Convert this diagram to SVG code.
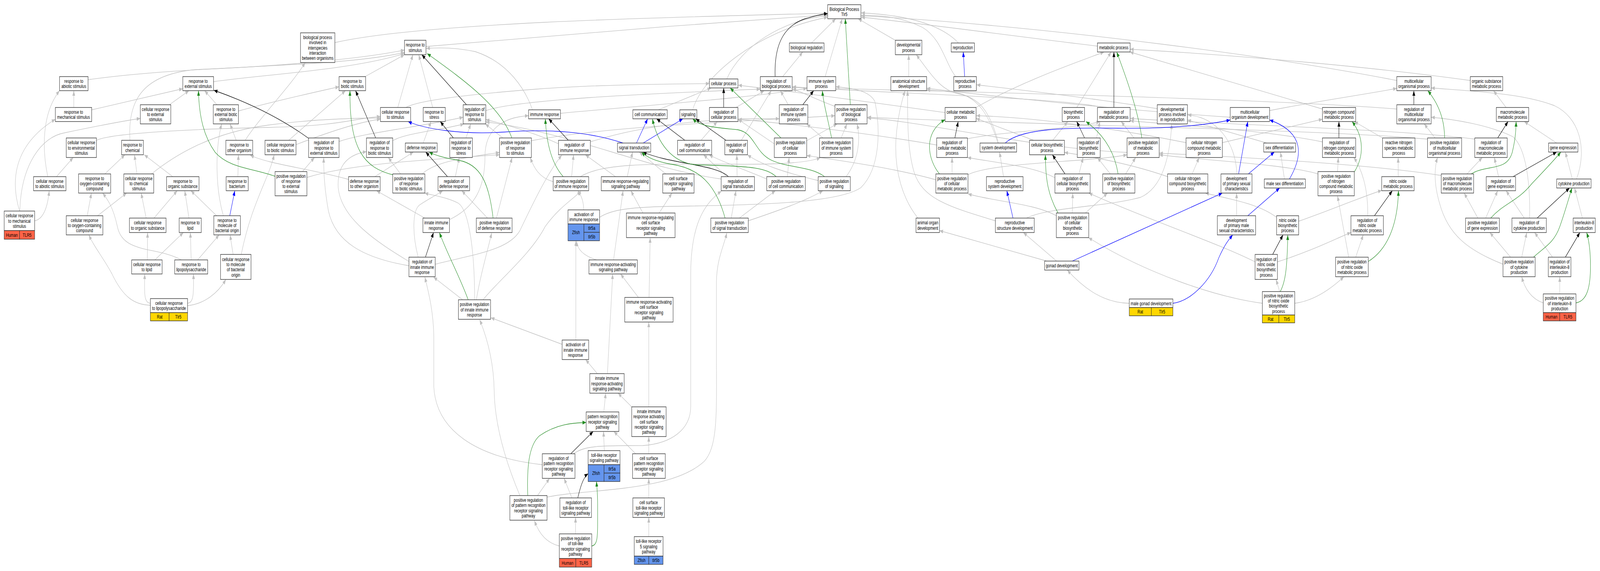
<svg xmlns="http://www.w3.org/2000/svg" width="5724" height="1461" viewBox="0 0 5724 1461" preserveAspectRatio="none">
<style>
svg:root{width:100vw;height:100vh}
rect{fill:#fff;stroke:#333;stroke-width:1.4}
.bg{fill:#fff;stroke:none}
text{font-family:"Liberation Sans",Arial,Helvetica,sans-serif;font-size:13px;text-anchor:middle;fill:#000}
rect.hu{fill:#ff6347}
rect.rat{fill:#ffd700}
rect.zf{fill:#6495ed}
#edges path{fill:none;stroke-width:1.3}
#edges .g{stroke:#c0c0c0;marker-end:url(#mg)}
#edges .k{stroke:#000;marker-end:url(#mk)}
#edges .b{stroke:#0000ff;marker-end:url(#mb)}
#edges .v{stroke:#228b22;marker-end:url(#mv)}
</style>
<defs>
<marker id="mg" markerUnits="userSpaceOnUse" markerWidth="13" markerHeight="10" refX="13" refY="5" orient="auto"><path d="M0,0 L13,5 L0,10 z" fill="#c0c0c0"/></marker>
<marker id="mk" markerUnits="userSpaceOnUse" markerWidth="13" markerHeight="10" refX="13" refY="5" orient="auto"><path d="M0,0 L13,5 L0,10 z" fill="#000"/></marker>
<marker id="mb" markerUnits="userSpaceOnUse" markerWidth="13" markerHeight="10" refX="13" refY="5" orient="auto"><path d="M0,0 L13,5 L0,10 z" fill="#0000ff"/></marker>
<marker id="mv" markerUnits="userSpaceOnUse" markerWidth="13" markerHeight="10" refX="13" refY="5" orient="auto"><path d="M0,0 L13,5 L0,10 z" fill="#228b22"/></marker>
</defs>
<rect class="bg" x="0" y="0" width="5724" height="1461"/>
<g id="edges">
<path class="g" d="M315,204 C700,165 1200,175 1447,134"/>
<path class="g" d="M764,209 C950,190 1250,180 1447,137"/>
<path class="g" d="M264,275 L264,232"/>
<path class="g" d="M328,281 L654,227"/>
<path class="g" d="M606,268 L676,232"/>
<path class="g" d="M776,268 L732,232"/>
<path class="g" d="M853,284 C950,265 1100,240 1213,222"/>
<path class="g" d="M845,359 L823,317"/>
<path class="g" d="M877,359 C930,300 1040,220 1092,160"/>
<path class="g" d="M345,359 C400,340 700,330 960,326 S1250,305 1361,298"/>
<path class="g" d="M465,359 C455,250 520,190 700,178 C1000,170 1300,150 1447,128"/>
<path class="g" d="M375,445 L447,396"/>
<path class="g" d="M490,445 L481,396"/>
<path class="g" d="M542,445 C620,400 750,340 960,320 C1150,302 1300,302 1361,302"/>
<path class="g" d="M618,452 L516,396"/>
<path class="g" d="M171,452 C150,380 150,290 213,232"/>
<path class="g" d="M202,452 L262,403"/>
<path class="g" d="M851,452 L853,396"/>
<path class="g" d="M70,540 C45,480 30,380 198,305"/>
<path class="g" d="M71,540 C75,420 150,350 230,340 C330,325 420,312 502,303"/>
<path class="g" d="M124,565 C160,560 172,520 176,488"/>
<path class="g" d="M312,552 L327,494"/>
<path class="g" d="M349,552 L453,494"/>
<path class="g" d="M523,558 L505,494"/>
<path class="g" d="M551,558 L634,488"/>
<path class="g" d="M676,558 L661,488"/>
<path class="g" d="M775,552 L683,488"/>
<path class="g" d="M799,552 C770,480 770,380 793,317"/>
<path class="g" d="M527,665 L528,595"/>
<path class="g" d="M554,665 L656,595"/>
<path class="g" d="M684,665 L681,595"/>
<path class="g" d="M707,665 L784,601"/>
<path class="g" d="M649,665 C560,630 440,650 420,580 C405,530 385,510 367,494"/>
<path class="g" d="M834,651 L823,601"/>
<path class="g" d="M863,651 C900,520 960,460 981,396"/>
<path class="g" d="M538,781 C480,780 440,760 400,700 C370,660 335,630 318,601"/>
<path class="g" d="M538,776 C518,774 515,760 518,701"/>
<path class="g" d="M671,776 C690,774 694,760 692,701"/>
<path class="g" d="M671,782 C730,778 780,750 808,715"/>
<path class="g" d="M1033,359 L1236,232"/>
<path class="g" d="M1059,370 C1150,345 1280,312 1361,305"/>
<path class="g" d="M1306,196 L1447,140"/>
<path class="g" d="M1198,109 C1500,60 2300,45 2961,34"/>
<path class="g" d="M1524,119 C1900,95 2500,60 2961,38"/>
<path class="g" d="M1423,275 L1477,140"/>
<path class="g" d="M1452,275 C1500,255 1700,240 1920,228 S2400,215 2538,214"/>
<path class="g" d="M1548,275 L1498,140"/>
<path class="g" d="M1738,283 C1850,255 2300,240 2720,228"/>
<path class="g" d="M1799,353 L1736,317"/>
<path class="g" d="M1901,360 C2200,320 2700,310 2987,296"/>
<path class="g" d="M1213,362 C1300,340 1500,325 1657,300"/>
<path class="g" d="M1405,360 C1450,340 1600,330 1660,317"/>
<path class="g" d="M1514,366 L1542,311"/>
<path class="g" d="M1667,353 L1684,317"/>
<path class="g" d="M1082,439 L1125,403"/>
<path class="g" d="M1098,454 C1250,420 1500,410 1787,396"/>
<path class="g" d="M1341,452 L1479,389"/>
<path class="g" d="M1247,459 C1100,430 960,420 895,397"/>
<path class="g" d="M1433,445 L1389,403"/>
<path class="g" d="M1511,445 C1560,410 1700,400 1787,390"/>
<path class="g" d="M1629,452 L1643,403"/>
<path class="g" d="M1520,558 L1347,488"/>
<path class="g" d="M1608,562 C1700,530 1735,480 1735,400 C1735,330 1800,300 1891,296"/>
<path class="g" d="M1744,558 L1652,488"/>
<path class="g" d="M1776,558 L1832,403"/>
<path class="g" d="M1496,658 C1475,600 1475,540 1500,525 C1530,510 1560,500 1584,488"/>
<path class="g" d="M1557,676 C1700,650 1820,640 1860,590 C1900,530 1960,440 2010,397"/>
<path class="g" d="M1463,669 C1350,620 1220,560 1210,480 C1205,420 1250,395 1311,388"/>
<path class="g" d="M1463,680 C1300,660 1200,620 1175,540 C1160,480 1158,440 1158,403"/>
<path class="g" d="M1655,767 L1551,709"/>
<path class="g" d="M1704,767 C1720,700 1745,640 1759,596"/>
<path class="g" d="M1728,767 C1780,720 1900,650 1950,580 C2000,530 2050,510 2078,489"/>
<path class="g" d="M1698,767 C1698,650 1680,540 1640,520 C1600,505 1550,500 1519,494"/>
<path class="g" d="M2011,881 L1756,813"/>
<path class="g" d="M1860,1268 C1820,1200 1770,1100 1768,1000 C1766,920 1740,860 1716,818"/>
<path class="g" d="M1940,1189 C1700,1170 1560,1100 1552,990 L1552,860 C1550,790 1530,740 1520,709"/>
<path class="g" d="M1923,1268 L1966,1224"/>
<path class="g" d="M1957,1272 C2100,1250 2400,1260 2520,1180 C2570,1140 2563,1050 2563,900 L2563,720 C2565,660 2590,630 2600,596"/>
<path class="g" d="M2052,1161 C2090,1140 2150,1140 2300,1140 C2400,1135 2471,1100 2471,1040 L2471,700 C2472,600 2500,530 2581,489"/>
<path class="g" d="M2160,1054 L2167,1006"/>
<path class="g" d="M2162,1153 L2159,1104"/>
<path class="g" d="M2274,1161 L2196,1104"/>
<path class="g" d="M2321,1161 L2321,1117"/>
<path class="g" d="M2046,1274 L2018,1224"/>
<path class="g" d="M2059,1366 L2059,1324"/>
<path class="g" d="M2001,1397 C1960,1390 1930,1370 1912,1332"/>
<path class="g" d="M2321,1274 L2321,1224"/>
<path class="g" d="M2321,1373 L2321,1324"/>
<path class="g" d="M2260,1041 L2211,1006"/>
<path class="g" d="M2321,1041 L2321,824"/>
<path class="g" d="M2137,956 L2095,920"/>
<path class="g" d="M2173,956 L2192,701"/>
<path class="g" d="M2060,870 L2060,616"/>
<path class="g" d="M2284,761 L2220,701"/>
<path class="g" d="M2322,761 L2326,608"/>
<path class="g" d="M2134,665 C2090,655 2065,640 2063,617"/>
<path class="g" d="M2195,665 L2229,488"/>
<path class="g" d="M2088,537 C2088,515 2080,500 2067,488"/>
<path class="g" d="M2145,556 C2180,540 2230,530 2400,528 C2700,525 3000,520 3080,480 C3150,430 3150,330 3130,260 C3110,230 3040,225 2990,222"/>
<path class="g" d="M2300,545 L2257,488"/>
<path class="g" d="M2358,545 L2404,494"/>
<path class="g" d="M2202,452 L2094,396"/>
<path class="g" d="M2244,452 L2263,389"/>
<path class="g" d="M2382,445 L2287,389"/>
<path class="g" d="M2045,452 L2052,396"/>
<path class="g" d="M2076,452 C2150,420 2300,418 2600,420 C2800,422 2900,415 2935,403"/>
<path class="g" d="M1979,465 C1930,455 1910,430 1897,403"/>
<path class="g" d="M2112,363 C2300,320 2550,300 2788,304"/>
<path class="g" d="M1998,368 C1930,345 1820,320 1738,306"/>
<path class="g" d="M2508,359 L2566,311"/>
<path class="g" d="M2652,359 L2759,232"/>
<path class="g" d="M2600,452 L2517,396"/>
<path class="g" d="M2637,452 L2636,396"/>
<path class="g" d="M2580,458 C2300,430 2050,340 1738,312"/>
<path class="g" d="M2616,558 L2633,488"/>
<path class="g" d="M2645,558 L2774,488"/>
<path class="g" d="M2677,565 C2780,540 2880,515 2944,488"/>
<path class="g" d="M2743,458 C2650,430 2570,410 2537,396"/>
<path class="g" d="M2817,452 L2823,403"/>
<path class="g" d="M2600,202 C2650,120 2800,50 2961,40"/>
<path class="g" d="M2633,275 L2734,232"/>
<path class="g" d="M2800,196 L2872,133"/>
<path class="g" d="M2770,368 L2640,305"/>
<path class="g" d="M2886,360 L2995,317"/>
<path class="g" d="M2820,268 L2792,232"/>
<path class="g" d="M2355,281 L2544,225"/>
<path class="g" d="M2478,281 C2510,200 2700,80 2961,44"/>
<path class="g" d="M2952,196 L3013,48"/>
<path class="g" d="M2903,110 L2990,48"/>
<path class="g" d="M3203,103 L3070,48"/>
<path class="g" d="M3429,110 C3390,80 3300,40 3081,33"/>
<path class="g" d="M3419,196 C3380,160 3370,100 3300,70 C3230,45 3150,38 3081,40"/>
<path class="g" d="M3251,196 L3251,140"/>
<path class="g" d="M2987,272 C2920,255 2870,235 2835,228"/>
<path class="g" d="M2944,353 L2886,317"/>
<path class="g" d="M3009,353 L3030,317"/>
<path class="g" d="M3027,452 C3070,410 3080,360 3066,317"/>
<path class="g" d="M2927,462 C2800,440 2720,420 2674,396"/>
<path class="g" d="M3381,288 C3200,270 2900,240 2641,218"/>
<path class="g" d="M3492,275 C3650,210 3850,160 3950,133"/>
<path class="g" d="M3351,371 C3100,340 2800,315 2641,305"/>
<path class="g" d="M3461,355 C3600,335 3850,330 3935,311"/>
<path class="g" d="M3406,445 L3406,403"/>
<path class="g" d="M3348,460 C3200,430 3000,410 2886,398"/>
<path class="g" d="M3463,447 C3550,415 3900,415 4032,396"/>
<path class="g" d="M3570,366 C3540,300 3500,240 3400,235 C3360,232 3330,231 3315,230"/>
<path class="g" d="M3572,366 C3540,280 3500,250 3430,240 C3370,232 3340,200 3278,140"/>
<path class="g" d="M3698,359 L3492,303"/>
<path class="g" d="M3766,359 L3820,311"/>
<path class="g" d="M3852,275 L3975,133"/>
<path class="g" d="M3590,452 L3576,389"/>
<path class="g" d="M3561,565 C3400,530 3300,510 3270,440 C3245,380 3247,300 3247,232"/>
<path class="g" d="M3672,558 C3750,530 3950,530 4080,505 C4160,480 4185,400 4192,317"/>
<path class="g" d="M3284,558 C3230,510 3200,440 3205,360 C3210,300 3225,260 3238,232"/>
<path class="g" d="M3745,668 L3361,590"/>
<path class="g" d="M3780,668 L3661,595"/>
<path class="g" d="M3774,455 C3700,425 3550,415 3461,403"/>
<path class="g" d="M3860,445 L3875,403"/>
<path class="g" d="M3836,545 L3838,494"/>
<path class="g" d="M3779,552 C3700,520 3550,515 3463,496"/>
<path class="g" d="M3883,545 L3962,494"/>
<path class="g" d="M3926,118 C3600,90 3300,60 3081,44"/>
<path class="g" d="M3947,275 C3800,250 3200,240 2835,222"/>
<path class="g" d="M4057,353 L4011,311"/>
<path class="g" d="M4032,390 C3700,380 3300,310 3103,302"/>
<path class="g" d="M3923,353 L3935,311"/>
<path class="g" d="M3972,445 L3926,403"/>
<path class="g" d="M4027,445 L4063,403"/>
<path class="g" d="M4140,278 C3900,250 3650,230 3494,217"/>
<path class="g" d="M4532,366 L4248,307"/>
<path class="g" d="M4425,445 C4420,360 4350,300 4249,294"/>
<path class="g" d="M4595,458 L4581,389"/>
<path class="g" d="M4424,552 L4424,494"/>
<path class="g" d="M4040,776 C3950,775 3880,740 3818,691"/>
<path class="g" d="M4243,365 C4000,330 3700,300 3493,296"/>
<path class="g" d="M4373,365 L4731,305"/>
<path class="g" d="M4265,445 L4290,403"/>
<path class="g" d="M4177,452 C4050,420 3900,400 3808,390"/>
<path class="g" d="M4567,556 C4500,520 4400,510 4312,494"/>
<path class="g" d="M4646,566 C4750,540 4850,510 4943,487"/>
<path class="g" d="M4490,670 C4350,620 4100,560 3895,494"/>
<path class="g" d="M4570,670 C4700,640 4780,610 4833,595"/>
<path class="g" d="M4578,746 L4565,715"/>
<path class="g" d="M4516,776 C4350,760 4100,700 3894,608"/>
<path class="g" d="M4632,776 C4700,770 4760,740 4808,708"/>
<path class="g" d="M4785,439 L4788,403"/>
<path class="g" d="M4715,445 C4600,420 4300,410 4147,396"/>
<path class="g" d="M4731,363 C4500,330 4200,320 4043,309"/>
<path class="g" d="M4731,279 L4042,133"/>
<path class="g" d="M4997,206 C4600,150 3800,70 3081,40"/>
<path class="g" d="M5260,206 C4900,170 4400,140 4043,126"/>
<path class="g" d="M4997,279 C4600,255 3500,235 2835,224"/>
<path class="g" d="M5134,353 L5095,317"/>
<path class="g" d="M5107,356 C4700,330 3700,320 3103,300"/>
<path class="g" d="M5388,275 L5343,232"/>
<path class="g" d="M5276,356 C5000,330 4400,320 4044,303"/>
<path class="g" d="M5569,366 L5453,311"/>
<path class="g" d="M4946,353 L4845,311"/>
<path class="g" d="M5002,452 L5002,403"/>
<path class="g" d="M4893,552 C4895,480 4870,430 4843,403"/>
<path class="g" d="M4850,658 L4877,601"/>
<path class="g" d="M4825,658 L4785,501"/>
<path class="g" d="M5248,445 L5303,403"/>
<path class="g" d="M5156,449 C4900,420 4400,400 4147,392"/>
<path class="g" d="M5361,452 L5346,403"/>
<path class="g" d="M5625,458 L5600,389"/>
<path class="g" d="M5640,458 C5680,380 5650,300 5560,270 C5450,240 5300,235 5120,225"/>
<path class="g" d="M5315,558 L5358,488"/>
<path class="g" d="M5287,558 L5238,494"/>
<path class="g" d="M5453,558 L5388,488"/>
<path class="g" d="M5472,558 C5475,470 5460,380 5413,350 C5330,320 5200,305 5120,300"/>
<path class="g" d="M5661,558 L5633,481"/>
<path class="g" d="M5444,658 L5462,595"/>
<path class="g" d="M5404,658 L5330,595"/>
<path class="g" d="M5377,676 C5250,640 5180,600 5150,520 C5125,460 5135,420 5143,403"/>
<path class="g" d="M5554,658 L5490,595"/>
<path class="g" d="M5580,752 L5580,708"/>
<path class="g" d="M5521,775 C5480,765 5455,740 5444,708"/>
<path class="g" d="M2005,290 C2300,270 2700,250 2887,226"/>
<path class="g" d="M1905,281 C1880,230 1820,160 1700,132 C1620,120 1560,122 1525,124"/>
<path class="g" d="M4542,283 C4700,260 4900,240 4997,226"/>
<path class="g" d="M4401,300 C4000,280 3600,250 3315,226"/>
<path class="k" d="M1669,268 L1509,140"/>
<path class="k" d="M1104,354 C1000,300 880,260 765,231"/>
<path class="k" d="M1344,353 L1272,232"/>
<path class="k" d="M1622,353 L1575,311"/>
<path class="k" d="M1601,452 L1523,389"/>
<path class="k" d="M1522,658 L1551,595"/>
<path class="k" d="M2042,1161 L2122,1104"/>
<path class="k" d="M2067,1274 C2075,1250 2085,1222 2104,1212"/>
<path class="k" d="M2033,359 L1963,304"/>
<path class="k" d="M2606,452 C2560,420 2400,420 2300,389"/>
<path class="k" d="M2597,359 L2489,304"/>
<path class="k" d="M2450,359 L2349,304"/>
<path class="k" d="M2589,275 L2589,225"/>
<path class="k" d="M2773,196 C2770,130 2790,70 2880,48 C2920,40 2940,36 2961,35"/>
<path class="k" d="M2872,268 L2911,232"/>
<path class="k" d="M3416,353 L3428,311"/>
<path class="k" d="M3810,445 L3765,396"/>
<path class="k" d="M3985,275 L3985,133"/>
<path class="k" d="M3880,353 L3852,311"/>
<path class="k" d="M4553,651 L4590,601"/>
<path class="k" d="M4790,353 L4790,311"/>
<path class="k" d="M5058,268 L5058,232"/>
<path class="k" d="M5358,353 L5395,311"/>
<path class="k" d="M4917,552 L4981,488"/>
<path class="k" d="M5413,452 L5569,389"/>
<path class="k" d="M5499,558 L5615,481"/>
<path class="k" d="M5600,658 L5652,595"/>
<path class="b" d="M822,552 L840,488"/>
<path class="b" d="M2229,366 C2100,335 1950,330 1800,338 C1650,345 1520,330 1460,311"/>
<path class="b" d="M2277,366 L2317,304"/>
<path class="b" d="M2301,366 L2443,304"/>
<path class="b" d="M3451,196 L3446,133"/>
<path class="b" d="M3596,366 C3650,330 3800,326 4000,328 C4200,330 4330,318 4401,307"/>
<path class="b" d="M3624,558 L3602,488"/>
<path class="b" d="M3836,668 L4373,494"/>
<path class="b" d="M4431,445 L4464,311"/>
<path class="b" d="M4466,445 L4559,389"/>
<path class="b" d="M4613,458 C4660,400 4670,340 4542,307"/>
<path class="b" d="M4464,552 L4578,481"/>
<path class="b" d="M4196,776 C4260,770 4330,720 4360,660 C4385,620 4400,610 4410,601"/>
<path class="v" d="M1831,353 C1790,270 1650,200 1528,137"/>
<path class="v" d="M984,451 C900,430 820,430 770,390 C730,350 712,300 710,232"/>
<path class="v" d="M1410,448 C1300,430 1250,380 1252,232"/>
<path class="v" d="M1764,558 C1750,470 1720,420 1640,410 C1590,405 1550,395 1535,389"/>
<path class="v" d="M1675,767 C1640,700 1600,650 1572,595"/>
<path class="v" d="M1888,1268 C1885,1200 1890,1140 1930,1115 C1990,1085 2050,1082 2097,1081"/>
<path class="v" d="M2117,1397 C2135,1395 2138,1380 2138,1340 L2138,1290 C2138,1260 2135,1245 2134,1232"/>
<path class="v" d="M2015,452 C1975,420 1955,370 1951,304"/>
<path class="v" d="M2594,558 C2560,470 2500,430 2400,420 C2340,412 2310,400 2295,389"/>
<path class="v" d="M2777,452 C2740,430 2700,425 2500,422 C2400,420 2350,360 2334,304"/>
<path class="v" d="M2950,452 C2900,425 2820,430 2760,410 C2700,390 2700,340 2640,332 C2560,326 2510,325 2478,304"/>
<path class="v" d="M2794,353 L2612,225"/>
<path class="v" d="M3042,268 L3024,48"/>
<path class="v" d="M2975,353 C2960,300 2945,260 2942,232"/>
<path class="v" d="M3361,445 C3320,410 3300,340 3381,306"/>
<path class="v" d="M3785,545 C3750,500 3740,460 3740,396"/>
<path class="v" d="M4085,353 C4070,280 4030,200 3995,133"/>
<path class="v" d="M4000,445 C3990,400 3960,350 3885,311"/>
<path class="v" d="M4580,746 C4600,720 4605,680 4607,601"/>
<path class="v" d="M4845,440 C4880,400 4880,350 4837,311"/>
<path class="v" d="M5168,353 C5168,300 5140,260 5108,232"/>
<path class="v" d="M4895,669 C4960,640 5000,580 5003,488"/>
<path class="v" d="M5263,445 C5320,420 5390,440 5410,390 C5420,360 5423,340 5424,311"/>
<path class="v" d="M5333,558 C5380,520 5430,515 5480,470 C5520,440 5560,410 5584,389"/>
<path class="v" d="M5486,658 C5530,630 5560,620 5580,580 C5600,540 5615,500 5624,481"/>
<path class="v" d="M5638,775 C5680,770 5690,730 5690,680 C5690,640 5683,610 5676,595"/>
</g>
<g id="n_bp"><rect x="2961" y="12" width="119" height="36"/><text x="3020.5" y="28">Biological Process</text><text x="3020.5" y="41.3">Tlr5</text></g>
<g id="n_bpi"><rect x="1075" y="84" width="123" height="76"/><text x="1136.5" y="100">biological process</text><text x="1136.5" y="113.3">involved in</text><text x="1136.5" y="126.6">interspecies</text><text x="1136.5" y="139.9">interaction</text><text x="1136.5" y="153.2">between organisms</text></g>
<g id="n_rs"><rect x="1447" y="103" width="77" height="37"/><text x="1485.5" y="119.5">response to</text><text x="1485.5" y="132.8">stimulus</text></g>
<g id="n_breg"><rect x="2824" y="110" width="124" height="23"/><text x="2886" y="126.1">biological regulation</text></g>
<g id="n_dev"><rect x="3203" y="103" width="95" height="37"/><text x="3250.5" y="119.5">developmental</text><text x="3250.5" y="132.8">process</text></g>
<g id="n_repro"><rect x="3403" y="110" width="83" height="23"/><text x="3444.5" y="126.1">reproduction</text></g>
<g id="n_met"><rect x="3926" y="110" width="117" height="23"/><text x="3984.5" y="126.1">metabolic process</text></g>
<g id="n_mop"><rect x="4997" y="196" width="123" height="36"/><text x="5058.5" y="212">multicellular</text><text x="5058.5" y="225.3">organismal process</text></g>
<g id="n_osm"><rect x="5260" y="196" width="116" height="36"/><text x="5318" y="212">organic substance</text><text x="5318" y="225.3">metabolic process</text></g>
<g id="n_rab"><rect x="213" y="196" width="102" height="36"/><text x="264" y="212">response to</text><text x="264" y="225.3">abiotic stimulus</text></g>
<g id="n_rext"><rect x="654" y="196" width="110" height="36"/><text x="709" y="212">response to</text><text x="709" y="225.3">external stimulus</text></g>
<g id="n_rbio"><rect x="1213" y="196" width="95" height="36"/><text x="1260.5" y="212">response to</text><text x="1260.5" y="225.3">biotic stimulus</text></g>
<g id="n_cp"><rect x="2538" y="202" width="102" height="23"/><text x="2589" y="218.1">cellular process</text></g>
<g id="n_rbp"><rect x="2720" y="196" width="114" height="36"/><text x="2777" y="212">regulation of</text><text x="2777" y="225.3">biological process</text></g>
<g id="n_isp"><rect x="2887" y="196" width="103" height="36"/><text x="2938.5" y="212">immune system</text><text x="2938.5" y="225.3">process</text></g>
<g id="n_asd"><rect x="3187" y="196" width="128" height="36"/><text x="3251" y="212">anatomical structure</text><text x="3251" y="225.3">development</text></g>
<g id="n_rp"><rect x="3412" y="196" width="81" height="36"/><text x="3452.5" y="212">reproductive</text><text x="3452.5" y="225.3">process</text></g>
<g id="n_rmech"><rect x="198" y="275" width="130" height="36"/><text x="263" y="291">response to</text><text x="263" y="304.3">mechanical stimulus</text></g>
<g id="n_crext"><rect x="502" y="268" width="109" height="49"/><text x="556.5" y="283.8">cellular response</text><text x="556.5" y="297.1">to external</text><text x="556.5" y="310.4">stimulus</text></g>
<g id="n_rextb"><rect x="763" y="268" width="90" height="49"/><text x="808" y="283.8">response to</text><text x="808" y="297.1">external biotic</text><text x="808" y="310.4">stimulus</text></g>
<g id="n_crs"><rect x="1361" y="275" width="108" height="36"/><text x="1415" y="291">cellular response</text><text x="1415" y="304.3">to stimulus</text></g>
<g id="n_rstr"><rect x="1514" y="275" width="79" height="36"/><text x="1553.5" y="291">response to</text><text x="1553.5" y="304.3">stress</text></g>
<g id="n_rrs"><rect x="1657" y="268" width="81" height="49"/><text x="1697.5" y="283.8">regulation of</text><text x="1697.5" y="297.1">response to</text><text x="1697.5" y="310.4">stimulus</text></g>
<g id="n_ir"><rect x="1891" y="281" width="114" height="23"/><text x="1948" y="297.1">immune response</text></g>
<g id="n_cc"><rect x="2264" y="281" width="123" height="23"/><text x="2325.5" y="297.1">cell communication</text></g>
<g id="n_sig"><rect x="2432" y="281" width="61" height="23"/><text x="2462.5" y="297.1">signaling</text></g>
<g id="n_rcp"><rect x="2538" y="275" width="102" height="36"/><text x="2589" y="291">regulation of</text><text x="2589" y="304.3">cellular process</text></g>
<g id="n_risp"><rect x="2788" y="268" width="102" height="49"/><text x="2839" y="283.8">regulation of</text><text x="2839" y="297.1">immune system</text><text x="2839" y="310.4">process</text></g>
<g id="n_prbp"><rect x="2987" y="268" width="115" height="49"/><text x="3044.5" y="283.8">positive regulation</text><text x="3044.5" y="297.1">of biological</text><text x="3044.5" y="310.4">process</text></g>
<g id="n_cmp"><rect x="3381" y="275" width="111" height="36"/><text x="3436.5" y="291">cellular metabolic</text><text x="3436.5" y="304.3">process</text></g>
<g id="n_bsp"><rect x="3800" y="275" width="80" height="36"/><text x="3840" y="291">biosynthetic</text><text x="3840" y="304.3">process</text></g>
<g id="n_rmp"><rect x="3926" y="275" width="117" height="36"/><text x="3984.5" y="291">regulation of</text><text x="3984.5" y="304.3">metabolic process</text></g>
<g id="n_dpir"><rect x="4140" y="268" width="108" height="49"/><text x="4194" y="283.8">developmental</text><text x="4194" y="297.1">process involved</text><text x="4194" y="310.4">in reproduction</text></g>
<g id="n_mod"><rect x="4401" y="275" width="141" height="36"/><text x="4471.5" y="291">multicellular</text><text x="4471.5" y="304.3">organism development</text></g>
<g id="n_ncmp"><rect x="4731" y="275" width="119" height="36"/><text x="4790.5" y="291">nitrogen compound</text><text x="4790.5" y="304.3">metabolic process</text></g>
<g id="n_rmop"><rect x="4997" y="268" width="123" height="49"/><text x="5058.5" y="283.8">regulation of</text><text x="5058.5" y="297.1">multicellular</text><text x="5058.5" y="310.4">organismal process</text></g>
<g id="n_mmp"><rect x="5353" y="275" width="116" height="36"/><text x="5411" y="291">macromolecule</text><text x="5411" y="304.3">metabolic process</text></g>
<g id="n_crenv"><rect x="237" y="353" width="108" height="50"/><text x="291" y="369.3">cellular response</text><text x="291" y="382.6">to environmental</text><text x="291" y="395.9">stimulus</text></g>
<g id="n_rchem"><rect x="435" y="359" width="78" height="37"/><text x="474" y="375.5">response to</text><text x="474" y="388.8">chemical</text></g>
<g id="n_roo"><rect x="808" y="359" width="96" height="37"/><text x="856" y="375.5">response to</text><text x="856" y="388.8">other organism</text></g>
<g id="n_crbio"><rect x="948" y="359" width="111" height="37"/><text x="1003.5" y="375.5">cellular response</text><text x="1003.5" y="388.8">to biotic stimulus</text></g>
<g id="n_rrext"><rect x="1104" y="353" width="109" height="50"/><text x="1158.5" y="369.3">regulation of</text><text x="1158.5" y="382.6">response to</text><text x="1158.5" y="395.9">external stimulus</text></g>
<g id="n_rrbio"><rect x="1311" y="353" width="94" height="50"/><text x="1358" y="369.3">regulation of</text><text x="1358" y="382.6">response to</text><text x="1358" y="395.9">biotic stimulus</text></g>
<g id="n_def"><rect x="1450" y="366" width="114" height="23"/><text x="1507" y="382.1">defense response</text></g>
<g id="n_rrstr"><rect x="1609" y="353" width="81" height="50"/><text x="1649.5" y="369.3">regulation of</text><text x="1649.5" y="382.6">response to</text><text x="1649.5" y="395.9">stress</text></g>
<g id="n_prrs"><rect x="1787" y="353" width="114" height="50"/><text x="1844" y="369.3">positive regulation</text><text x="1844" y="382.6">of response</text><text x="1844" y="395.9">to stimulus</text></g>
<g id="n_rir"><rect x="1998" y="359" width="114" height="37"/><text x="2055" y="375.5">regulation of</text><text x="2055" y="388.8">immune response</text></g>
<g id="n_st"><rect x="2209" y="366" width="119" height="23"/><text x="2268.5" y="382.1">signal transduction</text></g>
<g id="n_rcc"><rect x="2424" y="359" width="122" height="37"/><text x="2485" y="375.5">regulation of</text><text x="2485" y="388.8">cell communication</text></g>
<g id="n_rsig"><rect x="2593" y="359" width="81" height="37"/><text x="2633.5" y="375.5">regulation of</text><text x="2633.5" y="388.8">signaling</text></g>
<g id="n_prcp"><rect x="2770" y="353" width="116" height="50"/><text x="2828" y="369.3">positive regulation</text><text x="2828" y="382.6">of cellular</text><text x="2828" y="395.9">process</text></g>
<g id="n_prisp"><rect x="2932" y="353" width="119" height="50"/><text x="2991.5" y="369.3">positive regulation</text><text x="2991.5" y="382.6">of immune system</text><text x="2991.5" y="395.9">process</text></g>
<g id="n_rcmp"><rect x="3351" y="353" width="110" height="50"/><text x="3406" y="369.3">regulation of</text><text x="3406" y="382.6">cellular metabolic</text><text x="3406" y="395.9">process</text></g>
<g id="n_sysdev"><rect x="3506" y="366" width="131" height="23"/><text x="3571.5" y="382.1">system development</text></g>
<g id="n_cbsp"><rect x="3683" y="359" width="125" height="37"/><text x="3745.5" y="375.5">cellular biosynthetic</text><text x="3745.5" y="388.8">process</text></g>
<g id="n_rbsp"><rect x="3854" y="353" width="82" height="50"/><text x="3895" y="369.3">regulation of</text><text x="3895" y="382.6">biosynthetic</text><text x="3895" y="395.9">process</text></g>
<g id="n_prmp"><rect x="4032" y="353" width="115" height="50"/><text x="4089.5" y="369.3">positive regulation</text><text x="4089.5" y="382.6">of metabolic</text><text x="4089.5" y="395.9">process</text></g>
<g id="n_cncmp"><rect x="4243" y="353" width="130" height="50"/><text x="4308" y="369.3">cellular nitrogen</text><text x="4308" y="382.6">compound metabolic</text><text x="4308" y="395.9">process</text></g>
<g id="n_sexd"><rect x="4521" y="366" width="114" height="23"/><text x="4578" y="382.1">sex differentiation</text></g>
<g id="n_rncmp"><rect x="4731" y="353" width="119" height="50"/><text x="4790.5" y="369.3">regulation of</text><text x="4790.5" y="382.6">nitrogen compound</text><text x="4790.5" y="395.9">metabolic process</text></g>
<g id="n_rnsm"><rect x="4946" y="353" width="116" height="50"/><text x="5004" y="369.3">reactive nitrogen</text><text x="5004" y="382.6">species metabolic</text><text x="5004" y="395.9">process</text></g>
<g id="n_prmop"><rect x="5107" y="353" width="122" height="50"/><text x="5168" y="369.3">positive regulation</text><text x="5168" y="382.6">of multicellular</text><text x="5168" y="395.9">organismal process</text></g>
<g id="n_rmmp"><rect x="5276" y="353" width="116" height="50"/><text x="5334" y="369.3">regulation of</text><text x="5334" y="382.6">macromolecule</text><text x="5334" y="395.9">metabolic process</text></g>
<g id="n_ge"><rect x="5540" y="366" width="105" height="23"/><text x="5592.5" y="382.1">gene expression</text></g>
<g id="n_crab"><rect x="120" y="452" width="116" height="36"/><text x="178" y="468">cellular response</text><text x="178" y="481.3">to abiotic stimulus</text></g>
<g id="n_roxy"><rect x="281" y="445" width="115" height="49"/><text x="338.5" y="460.8">response to</text><text x="338.5" y="474.1">oxygen-containing</text><text x="338.5" y="487.4">compound</text></g>
<g id="n_crchem"><rect x="443" y="445" width="107" height="49"/><text x="496.5" y="460.8">cellular response</text><text x="496.5" y="474.1">to chemical</text><text x="496.5" y="487.4">stimulus</text></g>
<g id="n_rorg"><rect x="596" y="452" width="116" height="36"/><text x="654" y="468">response to</text><text x="654" y="481.3">organic substance</text></g>
<g id="n_rbact"><rect x="809" y="452" width="79" height="36"/><text x="848.5" y="468">response to</text><text x="848.5" y="481.3">bacterium</text></g>
<g id="n_prrext"><rect x="984" y="439" width="114" height="62"/><text x="1041" y="454.6">positive regulation</text><text x="1041" y="467.9">of response</text><text x="1041" y="481.2">to external</text><text x="1041" y="494.5">stimulus</text></g>
<g id="n_droo"><rect x="1247" y="452" width="113" height="36"/><text x="1303.5" y="468">defense response</text><text x="1303.5" y="481.3">to other organism</text></g>
<g id="n_prrbio"><rect x="1405" y="445" width="115" height="49"/><text x="1462.5" y="460.8">positive regulation</text><text x="1462.5" y="474.1">of response</text><text x="1462.5" y="487.4">to biotic stimulus</text></g>
<g id="n_rdef"><rect x="1567" y="452" width="113" height="36"/><text x="1623.5" y="468">regulation of</text><text x="1623.5" y="481.3">defense response</text></g>
<g id="n_prir"><rect x="1979" y="452" width="127" height="36"/><text x="2042.5" y="468">positive regulation</text><text x="2042.5" y="481.3">of immune response</text></g>
<g id="n_irrsp"><rect x="2151" y="452" width="174" height="36"/><text x="2238" y="468">immune response-regulating</text><text x="2238" y="481.3">signaling pathway</text></g>
<g id="n_csrsp"><rect x="2371" y="445" width="112" height="49"/><text x="2427" y="460.8">cell surface</text><text x="2427" y="474.1">receptor signaling</text><text x="2427" y="487.4">pathway</text></g>
<g id="n_rst"><rect x="2580" y="452" width="119" height="36"/><text x="2639.5" y="468">regulation of</text><text x="2639.5" y="481.3">signal transduction</text></g>
<g id="n_prcc"><rect x="2743" y="452" width="138" height="36"/><text x="2812" y="468">positive regulation</text><text x="2812" y="481.3">of cell communication</text></g>
<g id="n_prsig"><rect x="2927" y="452" width="115" height="36"/><text x="2984.5" y="468">positive regulation</text><text x="2984.5" y="481.3">of signaling</text></g>
<g id="n_prcmp"><rect x="3348" y="445" width="115" height="49"/><text x="3405.5" y="460.8">positive regulation</text><text x="3405.5" y="474.1">of cellular</text><text x="3405.5" y="487.4">metabolic process</text></g>
<g id="n_rsd"><rect x="3529" y="452" width="131" height="36"/><text x="3594.5" y="468">reproductive</text><text x="3594.5" y="481.3">system development</text></g>
<g id="n_rcbsp"><rect x="3774" y="445" width="126" height="49"/><text x="3837" y="460.8">regulation of</text><text x="3837" y="474.1">cellular biosynthetic</text><text x="3837" y="487.4">process</text></g>
<g id="n_prbsp"><rect x="3945" y="445" width="115" height="49"/><text x="4002.5" y="460.8">positive regulation</text><text x="4002.5" y="474.1">of biosynthetic</text><text x="4002.5" y="487.4">process</text></g>
<g id="n_cncbp"><rect x="4177" y="445" width="144" height="49"/><text x="4249" y="460.8">cellular nitrogen</text><text x="4249" y="474.1">compound biosynthetic</text><text x="4249" y="487.4">process</text></g>
<g id="n_dpsc"><rect x="4368" y="445" width="111" height="49"/><text x="4423.5" y="460.8">development</text><text x="4423.5" y="474.1">of primary sexual</text><text x="4423.5" y="487.4">characteristics</text></g>
<g id="n_msd"><rect x="4523" y="458" width="147" height="23"/><text x="4596.5" y="474.1">male sex differentiation</text></g>
<g id="n_prncmp"><rect x="4715" y="439" width="130" height="62"/><text x="4780" y="454.6">positive regulation</text><text x="4780" y="467.9">of nitrogen</text><text x="4780" y="481.2">compound metabolic</text><text x="4780" y="494.5">process</text></g>
<g id="n_nomp"><rect x="4943" y="452" width="116" height="36"/><text x="5001" y="468">nitric oxide</text><text x="5001" y="481.3">metabolic process</text></g>
<g id="n_prmmp"><rect x="5156" y="445" width="116" height="49"/><text x="5214" y="460.8">positive regulation</text><text x="5214" y="474.1">of macromolecule</text><text x="5214" y="487.4">metabolic process</text></g>
<g id="n_rge"><rect x="5317" y="452" width="105" height="36"/><text x="5369.5" y="468">regulation of</text><text x="5369.5" y="481.3">gene expression</text></g>
<g id="n_cyt"><rect x="5569" y="458" width="123" height="23"/><text x="5630.5" y="474.1">cytokine production</text></g>
<g id="n_crmech"><rect x="15" y="540" width="109" height="50"/><rect class="hu" x="15" y="590" width="55" height="22"/><rect class="hu" x="70" y="590" width="54" height="22"/><text x="69.5" y="556.3">cellular response</text><text x="69.5" y="569.6">to mechanical</text><text x="69.5" y="582.9">stimulus</text><text x="42.5" y="605.6">Human</text><text x="97" y="605.6">TLR5</text></g>
<g id="n_croxy"><rect x="237" y="552" width="131" height="49"/><text x="302.5" y="567.8">cellular response</text><text x="302.5" y="581.1">to oxygen-containing</text><text x="302.5" y="594.4">compound</text></g>
<g id="n_crorg"><rect x="463" y="558" width="131" height="37"/><text x="528.5" y="574.5">cellular response</text><text x="528.5" y="587.8">to organic substance</text></g>
<g id="n_rlip"><rect x="641" y="558" width="79" height="37"/><text x="680.5" y="574.5">response to</text><text x="680.5" y="587.8">lipid</text></g>
<g id="n_rmbo"><rect x="765" y="552" width="95" height="49"/><text x="812.5" y="567.8">response to</text><text x="812.5" y="581.1">molecule of</text><text x="812.5" y="594.4">bacterial origin</text></g>
<g id="n_actir"><rect x="2032" y="537" width="113" height="36"/><rect class="zf" x="2032" y="573" width="57" height="43"/><rect class="zf" x="2089" y="573" width="56" height="21.5"/><rect class="zf" x="2089" y="594.5" width="56" height="21.5"/><text x="2088.5" y="553">activation of</text><text x="2088.5" y="566.3">immune response</text><text x="2060.5" y="599.1">Zfish</text><text x="2117" y="588.4">tlr5a</text><text x="2117" y="609.9">tlr5b</text></g>
<g id="n_irrcs"><rect x="2241" y="545" width="174" height="63"/><text x="2328" y="561.2">immune response-regulating</text><text x="2328" y="574.5">cell surface</text><text x="2328" y="587.8">receptor signaling</text><text x="2328" y="601.1">pathway</text></g>
<g id="n_prst"><rect x="2543" y="558" width="134" height="37"/><text x="2610" y="574.5">positive regulation</text><text x="2610" y="587.8">of signal transduction</text></g>
<g id="n_iid"><rect x="1513" y="558" width="95" height="37"/><text x="1560.5" y="574.5">innate immune</text><text x="1560.5" y="587.8">response</text></g>
<g id="n_prdef"><rect x="1704" y="558" width="128" height="37"/><text x="1768" y="574.5">positive regulation</text><text x="1768" y="587.8">of defense response</text></g>
<g id="n_aod"><rect x="3277" y="558" width="84" height="37"/><text x="3319" y="574.5">animal organ</text><text x="3319" y="587.8">development</text></g>
<g id="n_rstd"><rect x="3561" y="558" width="139" height="37"/><text x="3630.5" y="574.5">reproductive</text><text x="3630.5" y="587.8">structure development</text></g>
<g id="n_prcbsp"><rect x="3779" y="545" width="116" height="63"/><text x="3837" y="561.2">positive regulation</text><text x="3837" y="574.5">of cellular</text><text x="3837" y="587.8">biosynthetic</text><text x="3837" y="601.1">process</text></g>
<g id="n_dpmsc"><rect x="4355" y="552" width="137" height="49"/><text x="4423.5" y="567.8">development</text><text x="4423.5" y="581.1">of primary male</text><text x="4423.5" y="594.4">sexual characteristics</text></g>
<g id="n_nobp"><rect x="4567" y="552" width="79" height="49"/><text x="4606.5" y="567.8">nitric oxide</text><text x="4606.5" y="581.1">biosynthetic</text><text x="4606.5" y="594.4">process</text></g>
<g id="n_rnomp"><rect x="4833" y="552" width="116" height="49"/><text x="4891" y="567.8">regulation of</text><text x="4891" y="581.1">nitric oxide</text><text x="4891" y="594.4">metabolic process</text></g>
<g id="n_prge"><rect x="5243" y="558" width="121" height="37"/><text x="5303.5" y="574.5">positive regulation</text><text x="5303.5" y="587.8">of gene expression</text></g>
<g id="n_rcyt"><rect x="5409" y="558" width="123" height="37"/><text x="5470.5" y="574.5">regulation of</text><text x="5470.5" y="587.8">cytokine production</text></g>
<g id="n_il8"><rect x="5628" y="558" width="79" height="37"/><text x="5667.5" y="574.5">interleukin-8</text><text x="5667.5" y="587.8">production</text></g>
<g id="n_crlip"><rect x="471" y="665" width="109" height="36"/><text x="525.5" y="681">cellular response</text><text x="525.5" y="694.3">to lipid</text></g>
<g id="n_rlps"><rect x="625" y="665" width="118" height="36"/><text x="684" y="681">response to</text><text x="684" y="694.3">lipopolysaccharide</text></g>
<g id="n_crmbo"><rect x="789" y="651" width="109" height="64"/><text x="843.5" y="667.7">cellular response</text><text x="843.5" y="681">to molecule</text><text x="843.5" y="694.3">of bacterial</text><text x="843.5" y="707.6">origin</text></g>
<g id="n_rii"><rect x="1463" y="658" width="94" height="50"/><text x="1510" y="674.3">regulation of</text><text x="1510" y="687.6">innate immune</text><text x="1510" y="700.9">response</text></g>
<g id="n_irasp"><rect x="2107" y="665" width="173" height="36"/><text x="2193.5" y="681">immune response-activating</text><text x="2193.5" y="694.3">signaling pathway</text></g>
<g id="n_gonad"><rect x="3737" y="668" width="123" height="23"/><text x="3798.5" y="684.1">gonad development</text></g>
<g id="n_rnobp"><rect x="4490" y="651" width="80" height="64"/><text x="4530" y="667.7">regulation of</text><text x="4530" y="681">nitric oxide</text><text x="4530" y="694.3">biosynthetic</text><text x="4530" y="707.6">process</text></g>
<g id="n_prnomp"><rect x="4778" y="658" width="117" height="50"/><text x="4836.5" y="674.3">positive regulation</text><text x="4836.5" y="687.6">of nitric oxide</text><text x="4836.5" y="700.9">metabolic process</text></g>
<g id="n_prcyt"><rect x="5377" y="658" width="115" height="50"/><text x="5434.5" y="674.3">positive regulation</text><text x="5434.5" y="687.6">of cytokine</text><text x="5434.5" y="700.9">production</text></g>
<g id="n_ril8"><rect x="5539" y="658" width="81" height="50"/><text x="5579.5" y="674.3">regulation of</text><text x="5579.5" y="687.6">interleukin-8</text><text x="5579.5" y="700.9">production</text></g>
<g id="n_crlps"><rect x="538" y="764" width="133" height="36"/><rect class="rat" x="538" y="800" width="67" height="21"/><rect class="rat" x="605" y="800" width="66" height="21"/><text x="604.5" y="780">cellular response</text><text x="604.5" y="793.3">to lipopolysaccharide</text><text x="571.5" y="815.1">Rat</text><text x="638" y="815.1">Tlr5</text></g>
<g id="n_irascs"><rect x="2235" y="761" width="173" height="63"/><text x="2321.5" y="777.2">immune response-activating</text><text x="2321.5" y="790.5">cell surface</text><text x="2321.5" y="803.8">receptor signaling</text><text x="2321.5" y="817.1">pathway</text></g>
<g id="n_prii"><rect x="1640" y="767" width="115" height="50"/><text x="1697.5" y="783.3">positive regulation</text><text x="1697.5" y="796.6">of innate immune</text><text x="1697.5" y="809.9">response</text></g>
<g id="n_mgd"><rect x="4040" y="765" width="156" height="22"/><rect class="rat" x="4040" y="787" width="79" height="21"/><rect class="rat" x="4119" y="787" width="77" height="21"/><text x="4118" y="780.6">male gonad development</text><text x="4079.5" y="802.1">Rat</text><text x="4157.5" y="802.1">Tlr5</text></g>
<g id="n_prnobp"><rect x="4516" y="746" width="116" height="60"/><rect class="rat" x="4516" y="806" width="59" height="20"/><rect class="rat" x="4575" y="806" width="57" height="20"/><text x="4574" y="760.7">positive regulation</text><text x="4574" y="774">of nitric oxide</text><text x="4574" y="787.3">biosynthetic</text><text x="4574" y="800.6">process</text><text x="4545.5" y="820.6">Rat</text><text x="4603.5" y="820.6">Tlr5</text></g>
<g id="n_pril8"><rect x="5521" y="752" width="117" height="48"/><rect class="hu" x="5521" y="800" width="59" height="21"/><rect class="hu" x="5580" y="800" width="58" height="21"/><text x="5579.5" y="767.3">positive regulation</text><text x="5579.5" y="780.6">of interleukin-8</text><text x="5579.5" y="793.9">production</text><text x="5550.5" y="815.1">Human</text><text x="5609" y="815.1">TLR5</text></g>
<g id="n_actiir"><rect x="2011" y="870" width="95" height="50"/><text x="2058.5" y="886.3">activation of</text><text x="2058.5" y="899.6">innate immune</text><text x="2058.5" y="912.9">response</text></g>
<g id="n_iirasp"><rect x="2110" y="956" width="123" height="50"/><text x="2171.5" y="972.3">innate immune</text><text x="2171.5" y="985.6">response-activating</text><text x="2171.5" y="998.9">signaling pathway</text></g>
<g id="n_prrsp"><rect x="2097" y="1054" width="117" height="50"/><text x="2155.5" y="1070.3">pattern recognition</text><text x="2155.5" y="1083.6">receptor signaling</text><text x="2155.5" y="1096.9">pathway</text></g>
<g id="n_iiracs"><rect x="2260" y="1041" width="123" height="76"/><text x="2321.5" y="1057">innate immune</text><text x="2321.5" y="1070.3">response activating</text><text x="2321.5" y="1083.6">cell surface</text><text x="2321.5" y="1096.9">receptor signaling</text><text x="2321.5" y="1110.2">pathway</text></g>
<g id="n_rprr"><rect x="1940" y="1161" width="117" height="63"/><text x="1998.5" y="1177.2">regulation of</text><text x="1998.5" y="1190.5">pattern recognition</text><text x="1998.5" y="1203.8">receptor signaling</text><text x="1998.5" y="1217.1">pathway</text></g>
<g id="n_tlr"><rect x="2104" y="1153" width="114" height="36"/><rect class="zf" x="2104" y="1189" width="57" height="43"/><rect class="zf" x="2161" y="1189" width="57" height="21.5"/><rect class="zf" x="2161" y="1210.5" width="57" height="21.5"/><text x="2161" y="1169">toll-like receptor</text><text x="2161" y="1182.3">signaling pathway</text><text x="2132.5" y="1215.1">Zfish</text><text x="2189.5" y="1204.4">tlr5a</text><text x="2189.5" y="1225.9">tlr5b</text></g>
<g id="n_csprr"><rect x="2263" y="1161" width="117" height="63"/><text x="2321.5" y="1177.2">cell surface</text><text x="2321.5" y="1190.5">pattern recognition</text><text x="2321.5" y="1203.8">receptor signaling</text><text x="2321.5" y="1217.1">pathway</text></g>
<g id="n_prprr"><rect x="1824" y="1268" width="133" height="63"/><text x="1890.5" y="1284.2">positive regulation</text><text x="1890.5" y="1297.5">of pattern recognition</text><text x="1890.5" y="1310.8">receptor signaling</text><text x="1890.5" y="1324.1">pathway</text></g>
<g id="n_rtlr"><rect x="2003" y="1274" width="113" height="50"/><text x="2059.5" y="1290.3">regulation of</text><text x="2059.5" y="1303.6">toll-like receptor</text><text x="2059.5" y="1316.9">signaling pathway</text></g>
<g id="n_cstlr"><rect x="2264" y="1274" width="113" height="50"/><text x="2320.5" y="1290.3">cell surface</text><text x="2320.5" y="1303.6">toll-like receptor</text><text x="2320.5" y="1316.9">signaling pathway</text></g>
<g id="n_prtlr"><rect x="2001" y="1366" width="116" height="63"/><rect class="hu" x="2001" y="1429" width="59" height="22"/><rect class="hu" x="2060" y="1429" width="57" height="22"/><text x="2059" y="1382.2">positive regulation</text><text x="2059" y="1395.5">of toll-like</text><text x="2059" y="1408.8">receptor signaling</text><text x="2059" y="1422.1">pathway</text><text x="2030.5" y="1444.6">Human</text><text x="2088.5" y="1444.6">TLR5</text></g>
<g id="n_tlr5"><rect x="2269" y="1373" width="103" height="50"/><rect class="zf" x="2269" y="1423" width="52" height="21"/><rect class="zf" x="2321" y="1423" width="51" height="21"/><text x="2320.5" y="1389.3">toll-like receptor</text><text x="2320.5" y="1402.6">5 signaling</text><text x="2320.5" y="1415.9">pathway</text><text x="2295" y="1438.1">Zfish</text><text x="2346.5" y="1438.1">tlr5b</text></g>
</svg>
